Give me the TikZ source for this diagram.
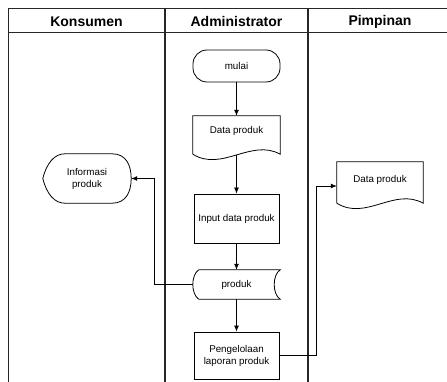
\documentclass[tikz,border=0pt]{standalone}
\usepackage{fontspec}
\setmainfont{Liberation Sans}
\usetikzlibrary{arrows.meta,calc}
\tikzset{
  frame/.style={line width=1pt, draw=black!85},
  lane/.style={line width=1.6pt, draw=black!85},
  hdr/.style={font=\fontsize{14}{16}\selectfont\bfseries, inner sep=0pt},
  txt/.style={font=\fontsize{9.8}{12}\selectfont, align=center, inner sep=0pt},
  outline/.style={line width=0.8pt},
  term/.style={txt, draw, outline, rounded corners=14pt, minimum width=87pt, minimum height=32pt},
  proc/.style={txt, draw, outline, minimum width=85pt, minimum height=49pt},
  flow/.style={line width=0.8pt, -{Latex[length=6pt,width=5pt]}},
}
\begin{document}
\begin{tikzpicture}[x=1pt,y=-1pt]
\useasboundingbox (0,0) rectangle (447,382);

% swimlane frame and headers
\draw[frame] (8,382) -- (8,9) -- (447,9);
\draw[frame] (8,33) -- (447,33);
\draw[lane] (165,9) -- (165,382);
\draw[lane] (308,9) -- (308,382);
\node[hdr] (hK) at (86.5,21.5) {Konsumen};
\node[hdr] (hA) at (236.5,21.5) {Administrator};
\node[hdr] (hP) at (380,21.5) {Pimpinan};

% Administrator lane
\node[term] (start) at (236.5,66) {mulai};

\node[txt, minimum width=87pt, minimum height=30pt] (dp1) at (236.5,131) {Data produk};
\draw[outline] ($(dp1.south west)+(0,8)$) |- (dp1.north east) -- ($(dp1.south east)+(0,8)$)
  .. controls +(-29,-16) and +(29,18) .. ($(dp1.south west)+(0,8)$);

\node[proc] (inp) at (236.5,218.5) {Input data produk};

\node[txt, minimum width=87pt, minimum height=29pt] (pr) at (236.5,284.5) {produk};
\draw[outline] ($(pr.north west)+(6,0)$) -- (pr.north east)
  .. controls +(-8,5) and +(-8,-5) .. (pr.south east)
  -- ($(pr.south west)+(6,0)$)
  .. controls +(-8,-5) and +(-8,5) .. ($(pr.north west)+(6,0)$) -- cycle;

\node[proc, minimum height=47pt] (pg) at (236.5,355.5) {Pengelolaan\\laporan produk};

% Konsumen lane
\node[txt, minimum width=88pt, minimum height=49pt] (info) at (87,178.5) {Informasi\\produk};
\draw[outline] (info.west)
  .. controls +(4,-16) and +(-10,0) .. ($(info.north west)+(22,0)$)
  -- ($(info.north east)+(-19,0)$)
  .. controls +(14,0) and +(0,-13) .. (info.east)
  .. controls +(0,13) and +(14,0) .. ($(info.south east)+(-19,0)$)
  -- ($(info.south west)+(22,0)$)
  .. controls +(-10,0) and +(4,16) .. (info.west) -- cycle;

% Pimpinan lane
\node[txt, minimum width=86pt, minimum height=36pt] (dp2) at (380,180) {Data produk};
\draw[outline] ($(dp2.south west)+(0,5)$) |- (dp2.north east) -- ($(dp2.south east)+(0,5)$)
  .. controls +(-29,-16) and +(29,18) .. ($(dp2.south west)+(0,5)$);

% flow connectors
\draw[flow] (start.south) -- (dp1.north);
\draw[flow] ($(dp1.south)+(0,8.5)$) -- (inp.north);
\draw[flow] (inp.south) -- (pr.north);
\draw[flow] (pr.south) -- (pg.north);
\draw[flow] (pr.west) -- ++(-38,0) |- (info.east);
\draw[flow] (pg.east) -- ++(37,0) |- ($(dp2.west)+(0,6)$);
\end{tikzpicture}
\end{document}
